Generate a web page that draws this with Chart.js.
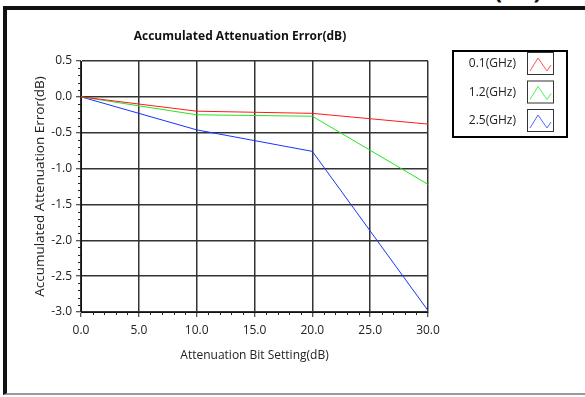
<!DOCTYPE html>
<html>
<head>
<meta charset="utf-8">
<script src="https://cdn.jsdelivr.net/npm/chart.js@4/dist/chart.umd.min.js"></script>
<style>
  html, body { margin: 0; padding: 0; background: #fff; }
  #wrap { position: relative; width: 585px; height: 397px; overflow: hidden; }
  #frame { position: absolute; left: 3px; top: 6px; width: 600px; height: 383px;
           border-left: 4px solid #111; border-top: 4px solid #111; border-bottom: 2px solid #999; }
  #cut { position: absolute; left: 494px; top: -27px; font: bold 24px "Open Sans", sans-serif; color: #111; }
  canvas { position: absolute; left: 0; top: 0; }
</style>
</head>
<body>
<div id="wrap">
  <div id="frame"></div>
  <div id="cut">(dB)</div>
  <canvas id="c" width="585" height="397"></canvas>
</div>
<script>
// attenuation bit setting (dB)
const settings = [0, 10, 20, 30];
const err01 = [0, -0.20, -0.23, -0.38];
const err12 = [0, -0.25, -0.27, -1.22];
const err25 = [0, -0.46, -0.76, -2.98];
const seriesNames = ["0.1(GHz)", "1.2(GHz)", "2.5(GHz)"];
const seriesColors = ["#ff1a1a", "#22e622", "#1a33ff"];
const iconColors = ["#ff5555", "#55ee55", "#5566ff"];

const FONT = "'Open Sans', sans-serif";

// minor ticks on both axes
const minorTicks = {
    id: "minorTicks",
    afterDraw(chart) {
        const { ctx, chartArea: a, scales: { x, y } } = chart;
        ctx.save();
        ctx.strokeStyle = "#222";
        ctx.lineWidth = 1;
        ctx.beginPath();
        for (let v = 0; v <= 30; v += 1) {
            if (v % 5 === 0) continue;
            const px = Math.round(x.getPixelForValue(v)) + 0.5;
            ctx.moveTo(px, a.bottom);
            ctx.lineTo(px, a.bottom + 3);
        }
        for (let i = -30; i <= 5; i++) {
            if (i % 5 === 0) continue;
            const py = Math.round(y.getPixelForValue(i / 10)) + 0.5;
            ctx.moveTo(a.left - 3, py);
            ctx.lineTo(a.left, py);
        }
        ctx.stroke();
        ctx.restore();
    }
};

// boxed legend on the right
const boxLegend = {
    id: "boxLegend",
    afterDraw(chart) {
        const ctx = chart.ctx;
        ctx.save();
        ctx.lineWidth = 2;
        ctx.strokeStyle = "#000";
        ctx.strokeRect(453, 51, 114, 86);
        ctx.font = "12px " + FONT;
        ctx.textAlign = "right";
        ctx.textBaseline = "middle";
        seriesNames.forEach((name, i) => {
            const cy = 64 + i * 28.5;
            ctx.fillStyle = "#222";
            ctx.fillText(name, 516, cy);
            ctx.lineWidth = 1;
            ctx.strokeStyle = "#333";
            ctx.strokeRect(527.5, cy - 11.5, 26, 22);
            ctx.strokeStyle = iconColors[i];
            ctx.beginPath();
            ctx.moveTo(530, cy + 7);
            ctx.lineTo(538, cy - 6);
            ctx.lineTo(547, cy + 7);
            ctx.lineTo(551, cy + 1);
            ctx.stroke();
        });
        // title
        ctx.font = "bold 12px " + FONT;
        ctx.textAlign = "center";
        ctx.fillStyle = "#111";
        ctx.fillText("Accumulated Attenuation Error(dB)", 240, 37);
        ctx.restore();
    }
};

const mk = (vals, i) => ({
    label: seriesNames[i],
    data: settings.map((s, k) => ({ x: s, y: vals[k] })),
    borderColor: seriesColors[i],
    borderWidth: 1,
    pointRadius: 0,
    tension: 0,
    fill: false
});

new Chart(document.getElementById("c"), {
    type: "line",
    data: { datasets: [mk(err01, 0), mk(err12, 1), mk(err25, 2)] },
    options: {
        responsive: false,
        animation: false,
        layout: { padding: { left: 32, right: 157, top: 61, bottom: 34 } },
        plugins: { legend: { display: false }, tooltip: { enabled: false } },
        scales: {
            x: {
                type: "linear", min: 0, max: 30,
                afterFit: s => { s.height = 51; },
                ticks: { stepSize: 5, padding: 6, color: "#222",
                         font: { family: FONT, size: 12 },
                         callback: v => v.toFixed(1) },
                grid: { color: "#333", lineWidth: 1.5, tickLength: 5, tickColor: "#222", tickWidth: 1 },
                border: { color: "#111", width: 1 },
                title: { display: true, text: "Attenuation Bit Setting(dB)", color: "#222",
                         font: { family: FONT, size: 12 }, padding: 0 }
            },
            y: {
                min: -3, max: 0.5,
                afterFit: s => { s.width = 49; },
                ticks: { stepSize: 0.5, padding: 4, color: "#222",
                         font: { family: FONT, size: 12 },
                         callback: v => v.toFixed(1) },
                grid: { color: "#333", lineWidth: 1.5, tickLength: 5, tickColor: "#222", tickWidth: 1 },
                border: { color: "#111", width: 1 },
                title: { display: true, text: "Accumulated Attenuation Error(dB)", color: "#222",
                         font: { family: FONT, size: 13.5 }, padding: 0 }
            }
        }
    },
    plugins: [minorTicks, boxLegend]
});
</script>
</body>
</html>
